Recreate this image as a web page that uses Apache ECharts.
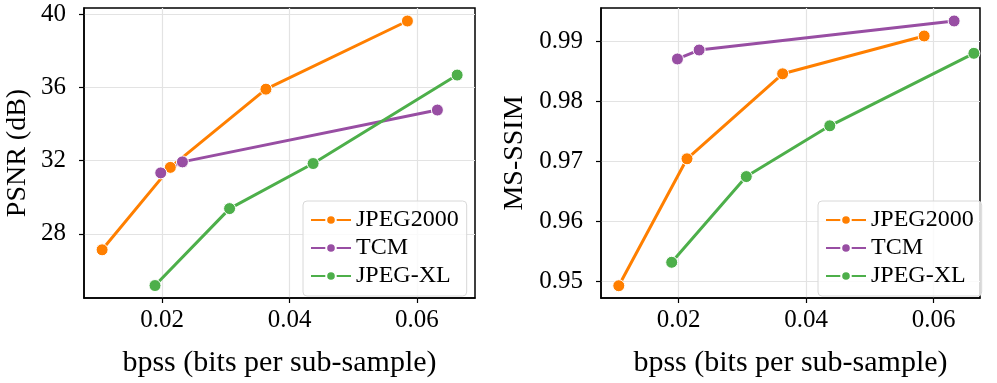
<!DOCTYPE html>
<html lang="en">
<head>
  <meta charset="UTF-8">
  <title>PSNR / MS-SSIM vs bpss</title>
  <style>
    html, body { margin: 0; padding: 0; background: #fff; }
    #main { width: 997px; height: 383px; }
  </style>
</head>
<body>
  <div id="main"></div>
<script src="https://cdn.jsdelivr.net/npm/echarts@6/dist/echarts.min.js"></script>
<script>
  var chart = echarts.init(document.getElementById('main'));

  // bpss values
  var jp2kBpss = [0.0106, 0.0213, 0.0363, 0.0585];
  var tcmBpss = [0.0198, 0.0232, 0.0632];
  var jxlBpss = [0.0189, 0.0306, 0.0437, 0.0663];

  // PSNR (dB)
  var jp2kPsnr = [27.13, 31.63, 35.9, 39.62];
  var tcmPsnr = [31.33, 31.93, 34.76];
  var jxlPsnr = [25.18, 29.38, 31.84, 36.67];

  // MS-SSIM
  var jp2kSsim = [0.94933, 0.97045, 0.98459, 0.99088];
  var tcmSsim = [0.98706, 0.98855, 0.99338];
  var jxlSsim = [0.95323, 0.96749, 0.97594, 0.988];

  var xTicks = [0.02, 0.04, 0.06];
  var psnrTicks = [28, 32, 36, 40];
  var ssimTicks = [0.95, 0.96, 0.97, 0.98, 0.99];

  var names = ['JPEG2000', 'TCM', 'JPEG-XL'];
  var colors = ['#ff7f00', '#984ea3', '#4daf4a'];

  var font = "'Liberation Serif', 'Times New Roman', serif";

  function zip(xs, ys) {
    return xs.map(function (x, i) { return [x, ys[i]]; });
  }

  function xAxis(idx, min, max) {
    return {
      type: 'value', gridIndex: idx, min: min, max: max,
      name: 'bpss (bits per sub-sample)', nameLocation: 'middle', nameGap: 50,
      nameTextStyle: { fontFamily: font, fontSize: 30, color: '#000' },
      axisLine: { show: true, lineStyle: { color: '#000', width: 1.5 } },
      axisTick: { show: true, length: 5, lineStyle: { color: '#000', width: 1.2 }, customValues: xTicks },
      axisLabel: { fontFamily: font, fontSize: 25, color: '#000', margin: 10, customValues: xTicks },
      splitLine: { show: true, lineStyle: { color: '#e3e3e3', width: 1.2 } }
    };
  }

  function yAxis(idx, min, max, name, ticks, gap) {
    return {
      type: 'value', gridIndex: idx, min: min, max: max,
      name: name, nameLocation: 'middle', nameGap: gap,
      nameTextStyle: { fontFamily: font, fontSize: 28, color: '#000' },
      axisLine: { show: true, lineStyle: { color: '#000', width: 1.5 } },
      axisTick: { show: true, length: 5, lineStyle: { color: '#000', width: 1.2 }, customValues: ticks },
      axisLabel: { fontFamily: font, fontSize: 25, color: '#000', margin: 18, customValues: ticks },
      splitLine: { show: true, lineStyle: { color: '#e3e3e3', width: 1.2 } }
    };
  }

  function line(name, color, idx, data) {
    return {
      name: name, type: 'line', xAxisIndex: idx, yAxisIndex: idx, data: data,
      symbol: 'circle', symbolSize: 12,
      lineStyle: { color: color, width: 3 },
      itemStyle: { color: color, borderColor: '#fff', borderWidth: 1 },
      emphasis: { disabled: true }
    };
  }

  function legend(left) {
    return {
      data: names, left: left, top: 201, orient: 'vertical',
      padding: [7, 8, 8, 7], itemGap: 4, itemWidth: 40, itemHeight: 12,
      backgroundColor: 'rgba(255,255,255,0.8)', borderColor: '#d8d8d8', borderWidth: 1, borderRadius: 4,
      textStyle: { fontFamily: font, fontSize: 24, color: '#000', lineHeight: 24 }
    };
  }

  var option = {
    animation: false,
    color: colors,
    grid: [
      { left: 84, top: 8, width: 391, height: 290, show: true, borderColor: '#000', borderWidth: 1.5 },
      { left: 601, top: 8, width: 379, height: 290, show: true, borderColor: '#000', borderWidth: 1.5 }
    ],
    xAxis: [xAxis(0, 0.00776, 0.0691), xAxis(1, 0.00781, 0.06726)],
    yAxis: [
      yAxis(0, 24.5, 40.33, 'PSNR (dB)', psnrTicks, 52),
      yAxis(1, 0.94729, 0.99554, 'MS-SSIM', ssimTicks, 72)
    ],
    legend: [
      Object.assign(legend(303), { id: 'l0' }),
      Object.assign(legend(818), { id: 'l1' })
    ],
    series: [
      line(names[0], colors[0], 0, zip(jp2kBpss, jp2kPsnr)),
      line(names[1], colors[1], 0, zip(tcmBpss, tcmPsnr)),
      line(names[2], colors[2], 0, zip(jxlBpss, jxlPsnr)),
      line(names[0], colors[0], 1, zip(jp2kBpss, jp2kSsim)),
      line(names[1], colors[1], 1, zip(tcmBpss, tcmSsim)),
      line(names[2], colors[2], 1, zip(jxlBpss, jxlSsim))
    ]
  };

  chart.setOption(option);
</script>
</body>
</html>
